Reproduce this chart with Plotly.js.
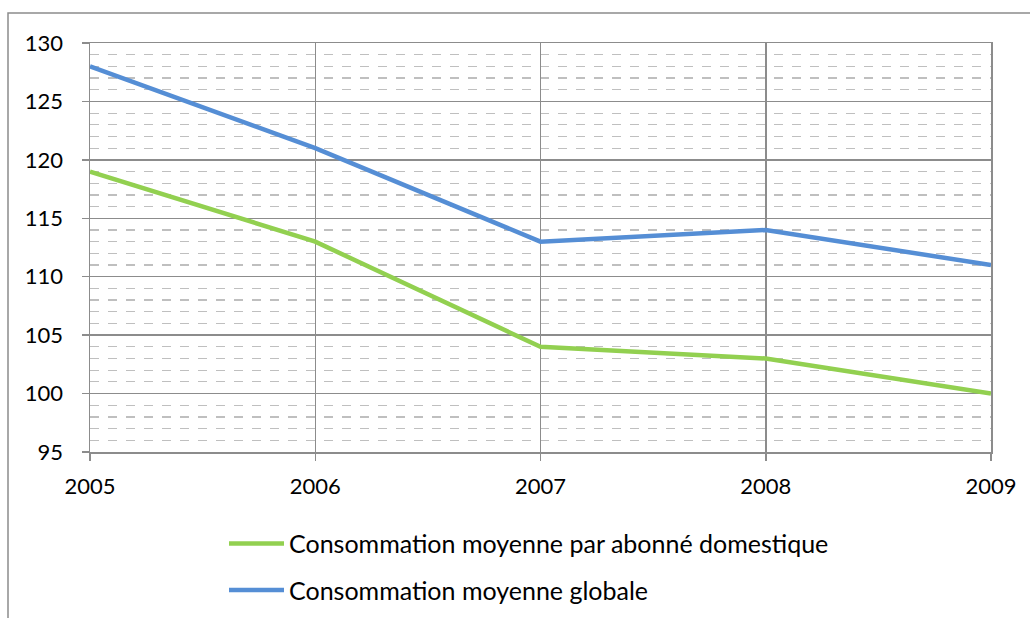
<!DOCTYPE html>
<html>
<head>
<meta charset="utf-8">
<script src="https://cdn.plot.ly/plotly-3.0.1.min.js"></script>
<style>html,body{margin:0;padding:0;background:#fff;}#chart{width:1030px;height:618px;}</style>
</head>
<body>
<div id="chart"></div>
<script>
const years = [2005, 2006, 2007, 2008, 2009];
const domestique = [119, 113, 104, 103, 100];
const globale = [128, 121, 113, 114, 111];
const seriesNames = ["Consommation moyenne par abonné domestique", "Consommation moyenne globale"];
const yTicks = [95, 100, 105, 110, 115, 120, 125, 130];

const font = {family: "Lato, 'Open Sans', sans-serif", size: 22, color: "#000"};
const legendFont = {family: "Lato, 'Open Sans', sans-serif", size: 25, color: "#000"};
const traces = [
  {x: years, y: domestique, name: seriesNames[0], type: "scatter", mode: "lines",
   line: {color: "#92D050", width: 4.5}, legendgroup: "a"},
  {x: years, y: globale, name: seriesNames[1], type: "scatter", mode: "lines",
   line: {color: "#558ED5", width: 4.5}, legendgroup: "b"}
];
const layout = {
  width: 1030, height: 618,
  margin: {l: 90, r: 39, t: 43, b: 166, autoexpand: false},
  paper_bgcolor: "#fff", plot_bgcolor: "#fff",
  font: font,
  showlegend: true,
  legend: {x: (224 - 90) / 901, xanchor: "left", y: -0.168, yanchor: "top",
    traceorder: "grouped", tracegroupgap: 11, itemwidth: 55, font: legendFont,
    bgcolor: "rgba(0,0,0,0)"},
  xaxis: {range: [2005, 2009], tickvals: years, ticktext: years.map(String),
    showgrid: true, gridcolor: "#8c8c8c", gridwidth: 1.5,
    showline: true, linecolor: "#8c8c8c", linewidth: 1.5, mirror: true,
    ticks: "outside", ticklen: 7, tickcolor: "#8c8c8c", tickwidth: 1.5,
    ticklabelstandoff: 7,
    zeroline: false, tickfont: font},
  yaxis: {range: [95, 130], tickvals: yTicks,
    showgrid: true, gridcolor: "#8c8c8c", gridwidth: 1.5,
    showline: true, linecolor: "#8c8c8c", linewidth: 1.5, mirror: true,
    ticks: "outside", ticklen: 7, tickcolor: "#8c8c8c", tickwidth: 1.5,
    ticklabelstandoff: 14,
    zeroline: false, tickfont: font,
    minor: {dtick: 1, showgrid: true, gridcolor: "#bfbfbf", griddash: "dash", gridwidth: 1.2, ticks: ""}},
  shapes: [
    {type: "rect", xref: "paper", yref: "paper",
     x0: (8 - 90) / 901, x1: (1040 - 90) / 901, y0: (452 - 630) / 409, y1: (452 - 13) / 409,
     line: {color: "#8c8c8c", width: 1.5}, layer: "below"}
  ]
};
Plotly.newPlot("chart", traces, layout, {displayModeBar: false, staticPlot: true});
</script>
</body>
</html>
